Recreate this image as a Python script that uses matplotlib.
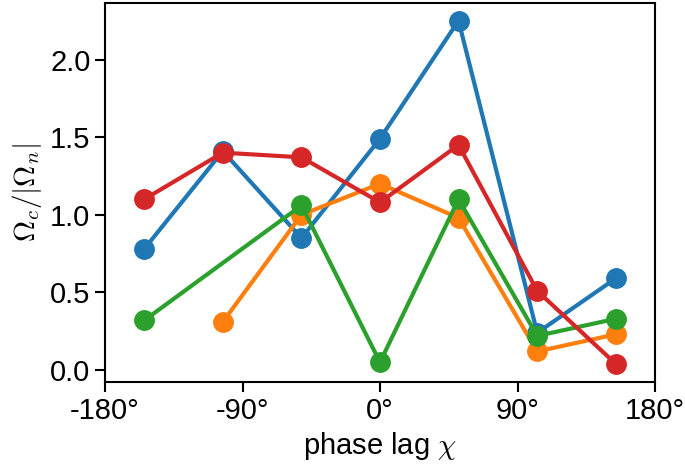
import numpy as np
import matplotlib
matplotlib.use('Agg')
from matplotlib import pyplot as plt

plt.rcParams['font.family'] = ['Liberation Sans', 'DejaVu Sans']
plt.rcParams['mathtext.fontset'] = 'cm'

# phase lag (deg), 7 equally spaced points
chi = [-154.3, -102.9, -51.4, 0.0, 51.4, 102.9, 154.3]

blue = [0.78, 1.41, 0.85, 1.49, 2.25, 0.24, 0.59]
orange = [np.nan, 0.31, 1.00, 1.20, 0.98, 0.12, 0.23]
green = [0.32, np.nan, 1.06, 0.05, 1.10, 0.22, 0.33]
red = [1.10, 1.40, 1.37, 1.08, 1.45, 0.51, 0.04]

xticks = [-180, -90, 0, 90, 180]
xticklabels = ['-180°', '-90°', '0°', '90°', '180°']


def plot_series(ax, x, y, color):
    x = np.array(x)
    y = np.array(y)
    m = ~np.isnan(y)
    ax.plot(x[m], y[m], '-o', color=color, lw=3, ms=14)


fig = plt.figure(figsize=(6.85, 4.68), dpi=100)
ax = fig.add_axes([105 / 685, 1 - 382 / 468, 550 / 685, 379 / 468])

plot_series(ax, chi, blue, 'tab:blue')
plot_series(ax, chi, orange, 'tab:orange')
plot_series(ax, chi, green, 'tab:green')
plot_series(ax, chi, red, 'tab:red')

ax.set_xlim(-180, 180)
ax.set_ylim(-0.077, 2.364)
ax.set_xticks(xticks)
ax.set_xticklabels(xticklabels)
ax.set_yticks([0.0, 0.5, 1.0, 1.5, 2.0])
ax.tick_params(labelsize=21, width=1.5, length=7)
for s in ax.spines.values():
    s.set_linewidth(1.5)

ax.set_xlabel(r'phase lag $\chi$', fontsize=21)
ax.set_ylabel(r'$\Omega_c/|\Omega_n|$', fontsize=21)

plt.savefig('out.png', dpi=100)
